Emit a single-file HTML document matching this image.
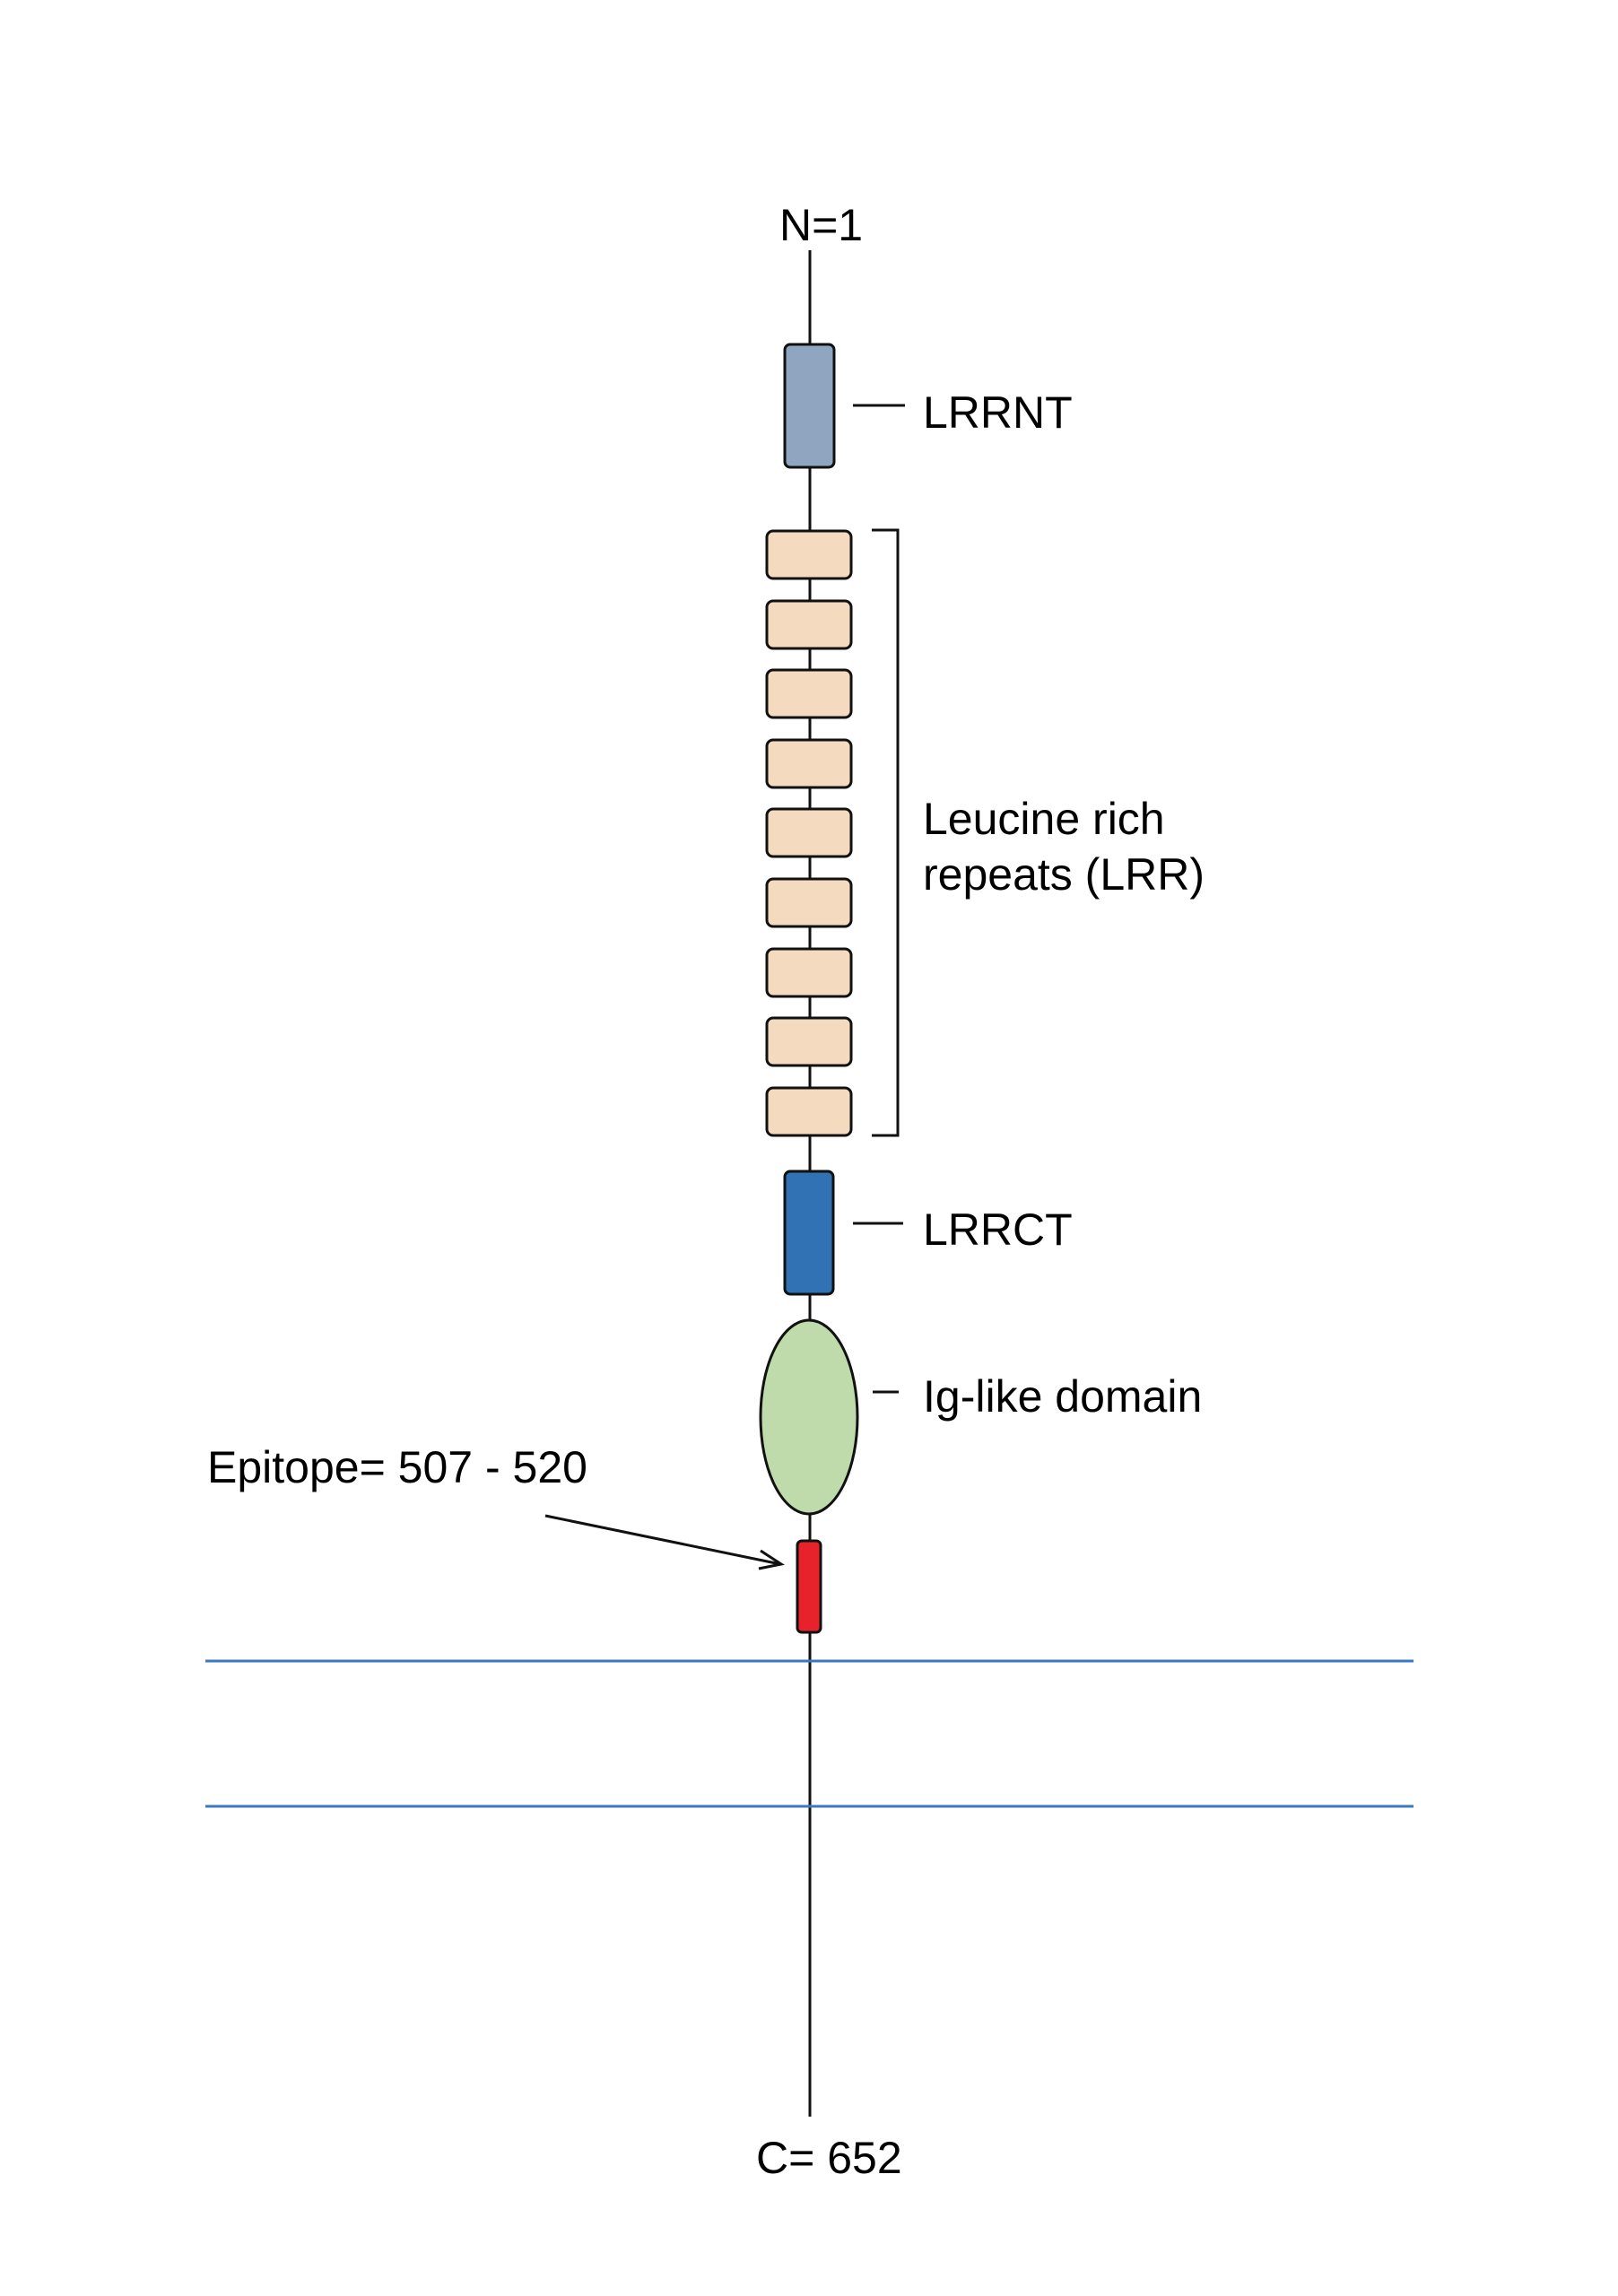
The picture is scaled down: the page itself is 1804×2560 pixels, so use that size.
<!DOCTYPE html>
<html><head><style>html,body{margin:0;padding:0;background:#fff}svg{display:block}</style></head>
<body>
<svg width="1804" height="2560" viewBox="0 0 1804 2560" xmlns="http://www.w3.org/2000/svg" font-family="Liberation Sans, sans-serif" font-size="50">
<rect width="1804" height="2560" fill="#fff"/>
<line x1="903" y1="279" x2="903" y2="2360" stroke="#111" stroke-width="3"/>
<line x1="229" y1="1852" x2="1576" y2="1852" stroke="#3a78c0" stroke-width="3"/>
<line x1="229" y1="2014" x2="1576" y2="2014" stroke="#3a78c0" stroke-width="3"/>
<text x="869" y="268">N=1</text>
<rect x="875" y="384" width="55" height="137" rx="6" fill="#8fa5c0" stroke="#111" stroke-width="3"/>
<line x1="951" y1="452" x2="1009" y2="452" stroke="#111" stroke-width="3"/>
<text x="1029" y="477">LRRNT</text>
<g fill="#f4dbbf" stroke="#111" stroke-width="3">
<rect x="855" y="592" width="94" height="53" rx="7"/>
<rect x="855" y="670" width="94" height="53" rx="7"/>
<rect x="855" y="747" width="94" height="53" rx="7"/>
<rect x="855" y="825" width="94" height="53" rx="7"/>
<rect x="855" y="902" width="94" height="53" rx="7"/>
<rect x="855" y="980" width="94" height="53" rx="7"/>
<rect x="855" y="1058" width="94" height="53" rx="7"/>
<rect x="855" y="1135" width="94" height="53" rx="7"/>
<rect x="855" y="1213" width="94" height="53" rx="7"/>
</g>
<polyline points="972,591 1001,591 1001,1266 972,1266" fill="none" stroke="#111" stroke-width="3"/>
<text x="1029" y="930">Leucine rich</text>
<text x="1029" y="992">repeats (LRR)</text>
<rect x="875" y="1306" width="54" height="137" rx="6" fill="#3072b4" stroke="#111" stroke-width="3"/>
<line x1="951" y1="1364" x2="1007" y2="1364" stroke="#111" stroke-width="3"/>
<text x="1029" y="1388">LRRCT</text>
<ellipse cx="902" cy="1580" rx="54" ry="108" fill="#bfdbac" stroke="#111" stroke-width="3"/>
<line x1="973" y1="1552" x2="1002" y2="1552" stroke="#111" stroke-width="3"/>
<text x="1029" y="1574">Ig-like domain</text>
<text x="231" y="1653">Epitope= 507 - 520</text>
<rect x="889" y="1718" width="26" height="102" rx="5" fill="#e8222a" stroke="#111" stroke-width="3"/>
<line x1="608" y1="1690" x2="870" y2="1744" stroke="#111" stroke-width="3"/>
<polyline points="848,1729 871,1744 846,1749" fill="none" stroke="#111" stroke-width="3"/>
<text x="843" y="2423">C= 652</text>
</svg>
</body></html>
